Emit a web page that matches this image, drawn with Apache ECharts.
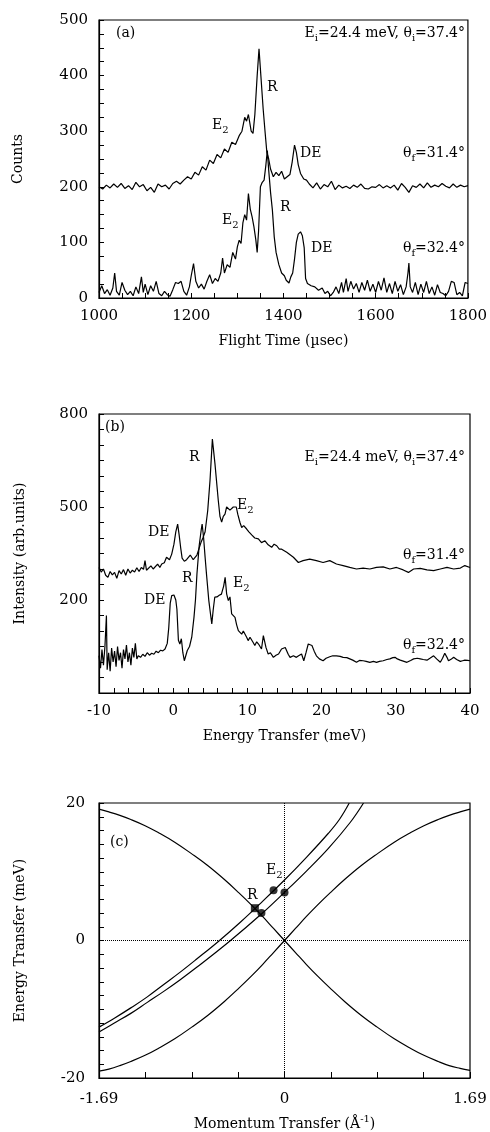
<!DOCTYPE html>
<html>
<head>
<meta charset="utf-8">
<script src="https://cdn.jsdelivr.net/npm/echarts@6/dist/echarts.min.js"></script>
<style>
  html, body { margin: 0; padding: 0; background: #fff; }
  #chart { width: 490px; height: 1132px; }
</style>
</head>
<body>
<div id="chart"></div>
<script>
// (a) time of flight spectra, [flight time (usec), counts]
var tofUpper = [
  [1000,200],[1008,196],[1016,203],[1024,198],[1032,205],[1040,199],[1048,206],[1056,197],[1064,202],[1072,195],
  [1080,208],[1088,200],[1096,204],[1104,193],[1112,199],[1120,190],[1128,205],[1136,200],[1144,203],[1152,196],
  [1160,206],[1168,210],[1176,205],[1184,212],[1192,218],[1200,214],[1208,226],[1216,221],[1224,236],[1232,230],
  [1240,248],[1248,242],[1256,258],[1264,252],[1272,268],[1280,262],[1288,280],[1296,276],[1304,292],[1310,300],
  [1316,325],[1320,318],[1324,330],[1330,300],[1334,296],[1338,330],[1343,400],[1347,448],[1351,400],[1356,340],
  [1360,300],[1364,262],[1368,250],[1372,232],[1378,218],[1384,226],[1390,220],[1396,228],[1402,214],[1408,218],
  [1414,222],[1419,245],[1424,275],[1428,262],[1432,240],[1437,224],[1444,214],[1450,212],[1456,205],[1464,198],
  [1472,207],[1480,196],[1488,204],[1496,200],[1504,210],[1512,195],[1520,203],[1528,198],[1536,201],[1544,197],
  [1552,203],[1560,199],[1568,205],[1576,197],[1584,196],[1592,200],[1600,199],[1608,204],[1616,198],[1624,202],
  [1632,198],[1640,203],[1648,194],[1656,206],[1664,199],[1672,190],[1680,202],[1688,199],[1696,205],[1704,198],
  [1712,207],[1720,199],[1728,203],[1736,200],[1744,206],[1752,201],[1760,198],[1768,205],[1776,199],[1784,203],
  [1792,200],[1800,202]
];
var tofLower = [
  [1000,10],[1006,22],[1012,8],[1018,15],[1024,5],[1030,18],[1034,45],[1038,12],[1044,5],[1050,28],
  [1056,14],[1062,6],[1068,12],[1074,4],[1080,20],[1086,8],[1092,38],[1096,10],[1100,25],[1106,6],
  [1112,22],[1118,12],[1124,30],[1130,8],[1136,4],[1142,12],[1148,6],[1154,3],[1160,15],[1166,28],
  [1172,26],[1178,30],[1184,12],[1190,5],[1196,20],[1200,40],[1205,62],[1210,30],[1216,18],[1222,25],
  [1228,16],[1234,30],[1240,42],[1246,26],[1252,35],[1258,30],[1264,45],[1268,72],[1272,45],[1278,60],
  [1284,55],[1290,82],[1296,70],[1300,92],[1304,104],[1308,98],[1312,135],[1316,150],[1320,140],[1324,188],
  [1328,160],[1332,146],[1336,128],[1340,105],[1343,82],[1346,120],[1350,200],[1354,208],[1358,212],[1362,240],
  [1365,265],[1368,230],[1372,190],[1376,158],[1380,110],[1384,82],[1390,60],[1396,45],[1402,40],[1406,32],
  [1412,27],[1416,38],[1420,45],[1424,70],[1428,100],[1432,115],[1437,119],[1441,112],[1445,90],[1448,35],
  [1452,26],[1460,22],[1468,20],[1476,14],[1484,18],[1490,8],[1496,12],[1502,4],[1508,10],[1514,20],
  [1520,8],[1526,28],[1530,10],[1536,35],[1540,12],[1546,30],[1552,16],[1558,26],[1564,10],[1570,28],
  [1576,14],[1582,32],[1588,12],[1594,25],[1600,10],[1606,30],[1612,14],[1618,36],[1624,10],[1630,26],
  [1636,8],[1642,30],[1648,12],[1654,24],[1660,6],[1666,20],[1670,45],[1672,63],[1675,20],[1680,10],
  [1686,28],[1692,6],[1698,25],[1704,10],[1710,30],[1716,8],[1722,20],[1728,5],[1734,24],[1740,10],
  [1746,8],[1752,4],[1758,12],[1764,30],[1770,28],[1776,6],[1782,10],[1788,4],[1794,28],[1800,26]
];

// (b) energy transfer spectra, [energy transfer (meV), intensity]
var energyUpper = [
  [-10,305],[-9.7,290],[-9.4,300],[-9.1,280],[-8.8,273],[-8.5,292],[-8.2,281],[-7.9,289],[-7.6,270],[-7.3,295],
  [-7.0,284],[-6.7,298],[-6.4,280],[-6.1,300],[-5.8,287],[-5.5,296],[-5.2,290],[-4.9,304],[-4.6,292],[-4.3,305],
  [-4.0,299],[-3.8,327],[-3.6,296],[-3.35,300],[-3.0,310],[-2.7,300],[-2.45,305],[-2.1,316],[-1.8,305],[-1.55,316],
  [-1.2,320],[-0.9,338],[-0.5,330],[-0.2,348],[0.1,380],[0.35,420],[0.6,445],[0.8,410],[1.0,370],[1.2,335],
  [1.5,325],[1.8,330],[2.0,332],[2.3,345],[2.5,348],[2.7,330],[2.95,332],[3.2,345],[3.4,360],[3.75,386],
  [4.0,400],[4.3,420],[4.65,488],[4.96,585],[5.28,719],[5.63,639],[6.08,520],[6.3,470],[6.53,451],[6.75,470],
  [6.98,477],[7.2,500],[7.43,504],[7.65,490],[7.88,494],[8.1,500],[8.33,494],[8.5,500],[8.7,477],[9.0,450],
  [9.23,434],[9.5,440],[9.9,429],[10.2,420],[10.58,410],[11.0,400],[11.48,397],[11.9,385],[12.37,391],[12.8,378],
  [13.27,370],[13.6,380],[13.95,375],[14.3,364],[14.62,364],[15.3,354],[16.2,338],[16.87,321],[17.5,327],[18.4,332],
  [19.3,327],[20.2,321],[21.1,327],[22.0,316],[22.9,311],[23.8,305],[24.7,300],[25.6,303],[26.5,300],[27.4,305],
  [28.3,307],[29.2,300],[30.1,305],[31.0,297],[31.7,289],[32.4,300],[33.3,302],[34.2,297],[35.1,295],[36.0,300],
  [36.9,305],[37.8,300],[38.7,303],[39.3,311],[40,305]
];
var energyLower = [
  [-10,20],[-9.8,-20],[-9.6,40],[-9.4,-10],[-9.2,50],[-9.0,150],[-8.9,-25],[-8.7,30],[-8.5,-30],[-8.3,45],
  [-8.1,0],[-7.9,35],[-7.7,-15],[-7.5,50],[-7.3,5],[-7.1,30],[-6.9,-20],[-6.7,40],[-6.5,10],[-6.3,55],
  [-6.1,0],[-5.9,30],[-5.7,-10],[-5.5,45],[-5.3,15],[-5.1,60],[-4.9,10],[-4.7,20],[-4.4,15],[-4.1,25],
  [-3.8,18],[-3.5,30],[-3.2,22],[-2.9,28],[-2.6,25],[-2.3,35],[-2.0,30],[-1.7,38],[-1.4,36],[-1.1,42],
  [-0.8,60],[-0.6,110],[-0.4,190],[-0.2,214],[0.1,216],[0.35,200],[0.5,170],[0.7,70],[0.9,58],[1.1,75],
  [1.3,30],[1.5,4],[1.7,10],[1.9,37],[2.2,50],[2.5,80],[2.8,144],[3.0,200],[3.2,284],[3.5,375],
  [3.8,430],[3.9,445],[4.1,400],[4.3,338],[4.5,280],[4.8,198],[5.0,160],[5.2,123],[5.4,170],[5.6,209],
  [5.9,210],[6.2,215],[6.5,219],[6.8,245],[7.0,273],[7.2,220],[7.43,198],[7.65,210],[7.88,155],[8.1,160],
  [8.33,144],[8.55,120],[8.78,101],[9.0,105],[9.23,90],[9.45,100],[9.68,96],[9.9,80],[10.1,69],[10.35,80],
  [10.6,74],[10.8,62],[11.0,53],[11.25,65],[11.5,58],[11.7,50],[11.9,42],[12.15,85],[12.5,47],[12.8,26],
  [13.1,30],[13.5,15],[13.85,22],[14.2,26],[14.6,42],[15.1,47],[15.5,25],[15.75,15],[16.2,20],[16.6,15],
  [16.9,20],[17.3,26],[17.6,4],[17.9,30],[18.2,58],[18.4,61],[18.7,53],[19.0,35],[19.3,20],[19.7,10],
  [20.2,4],[20.6,12],[21.1,17],[21.5,20],[22.0,20],[22.5,18],[22.9,15],[23.4,14],[23.8,10],[24.2,6],
  [24.7,-1],[25.1,5],[25.6,4],[26.0,2],[26.5,-1],[27.0,2],[27.4,-1],[27.8,2],[28.3,4],[28.8,8],
  [29.2,10],[29.6,14],[29.9,15],[30.2,10],[30.6,6],[31.0,3],[31.5,-1],[32.0,5],[32.4,10],[32.9,12],
  [33.3,10],[33.7,8],[34.2,6],[34.6,12],[35.1,20],[35.5,10],[36.0,-1],[36.3,12],[36.6,28],[36.9,15],
  [37.1,4],[37.5,10],[37.8,15],[38.2,8],[38.7,2],[39.0,4],[39.3,6],[39.7,5],[40,4]
];

// (c) dispersion and scan curves, [momentum transfer (1/A), energy transfer (meV)]
var dispersionRise = [
  [-1.69,-19.0],[-1.6,-18.7],[-1.5,-18.2],[-1.4,-17.6],[-1.27,-16.7],[-1.15,-15.7],[-1.0,-14.3],[-0.845,-12.6],
  [-0.7,-10.9],[-0.55,-8.9],[-0.42,-7.0],[-0.3,-5.15],[-0.2,-3.5],[-0.1,-1.75],[0,0],
  [0.1,1.75],[0.2,3.5],[0.3,5.15],[0.42,7.0],[0.55,8.9],[0.7,10.9],[0.845,12.6],[1.0,14.3],
  [1.15,15.7],[1.27,16.7],[1.4,17.6],[1.5,18.2],[1.6,18.7],[1.69,19.1]
];
var dispersionFall = [
  [-1.69,19.1],[-1.6,18.7],[-1.5,18.2],[-1.4,17.6],[-1.27,16.7],[-1.15,15.7],[-1.0,14.3],[-0.845,12.6],
  [-0.7,10.9],[-0.55,8.9],[-0.42,7.0],[-0.3,5.15],[-0.2,3.5],[-0.1,1.75],[0,0],
  [0.1,-1.75],[0.2,-3.5],[0.3,-5.15],[0.42,-7.0],[0.55,-8.9],[0.7,-10.9],[0.845,-12.6],[1.0,-14.3],
  [1.15,-15.7],[1.27,-16.7],[1.4,-17.6],[1.5,-18.2],[1.6,-18.6],[1.69,-18.9]
];
var scanUpper = [
  [-1.69,-12.6],[-1.55,-11.3],[-1.4,-9.8],[-1.25,-8.2],[-1.1,-6.4],[-0.95,-4.6],[-0.8,-2.7],[-0.6,-0.1],
  [-0.4,2.7],[-0.2,5.7],[0,8.8],[0.2,12.1],[0.4,15.6],[0.5,17.6],[0.59,20]
];
var scanLower = [
  [-1.69,-13.3],[-1.55,-12.0],[-1.4,-10.6],[-1.25,-9.0],[-1.1,-7.4],[-0.95,-5.7],[-0.8,-3.9],[-0.5,-0.1],
  [-0.2,4.0],[0,7.0],[0.2,10.1],[0.4,13.4],[0.6,17.2],[0.72,20]
];
var pointR = [[-0.27, 4.7]];
var pointsE2 = [[-0.21, 4.0], [-0.10, 7.3], [0.0, 7.0]];

var FONT = 'DejaVu Serif';
var chart = echarts.init(document.getElementById('chart'));

function axisStyle(extra) {
  var base = {
    type: 'value',
    axisLine: { show: true, onZero: false, lineStyle: { color: '#000', width: 1.2 } },
    axisTick: { show: true, inside: true, length: 5, lineStyle: { color: '#000' } },
    minorTick: { show: true, length: 5, lineStyle: { color: '#000' } },
    splitLine: { show: false },
    axisLabel: { color: '#000', fontFamily: FONT, fontSize: 15, margin: 11, formatter: function (v) { return String(v); } },
    nameLocation: 'middle',
    nameTextStyle: { color: '#000', fontFamily: FONT, fontSize: 14 }
  };
  return Object.assign(base, extra);
}

function minor(n) {
  return { show: true, splitNumber: n, length: 5, lineStyle: { color: '#000' } };
}

function line(data, xi, extra) {
  return Object.assign({
    type: 'line', data: data, xAxisIndex: xi, yAxisIndex: xi,
    showSymbol: false, symbol: 'none',
    lineStyle: { color: '#000', width: 1.2 }
  }, extra || {});
}

var rich = {
  n: { fontFamily: FONT, fontSize: 14, lineHeight: 20, verticalAlign: 'middle', fill: '#000', color: '#000' },
  s: { fontFamily: FONT, fontSize: 10, lineHeight: 12, verticalAlign: 'bottom', fill: '#000', color: '#000' }
};
function label(text, x, y, align) {
  return {
    type: 'text', x: x, y: y,
    style: { text: text, textAlign: align || 'left', verticalAlign: 'middle', rich: rich, fill: '#000' }
  };
}

var gridBox = { left: 99, right: 20, show: true, borderColor: '#000', borderWidth: 1.2, backgroundColor: 'transparent' };

chart.setOption({
  animation: false,
  backgroundColor: '#fff',
  grid: [
    Object.assign({ top: 20, height: 278 }, gridBox),
    Object.assign({ top: 414, height: 279 }, gridBox),
    Object.assign({ top: 803, height: 279 }, gridBox)
  ],
  xAxis: [
    axisStyle({ gridIndex: 0, min: 1000, max: 1800, interval: 200, minorTick: minor(4),
      name: 'Flight Time (\u00b5sec)', nameGap: 36 }),
    axisStyle({ gridIndex: 1, min: -10, max: 40, interval: 10, minorTick: minor(5),
      name: 'Energy Transfer (meV)', nameGap: 36 }),
    axisStyle({ gridIndex: 2, min: -1.69, max: 1.69, interval: 0.4225, minorTick: { show: false },
      axisTick: { show: true, inside: true, length: 6, lineStyle: { color: '#000' } },
      axisLabel: { color: '#000', fontFamily: FONT, fontSize: 15, margin: 14, showMinLabel: true, showMaxLabel: true,
        formatter: function (v) {
          if (Math.abs(v) < 1e-6) return '0';
          if (Math.abs(Math.abs(v) - 1.69) < 1e-6) return v.toFixed(2);
          return '';
        } },
      name: '{n|Momentum Transfer (\u00c5}{sup|-1}{n|)}', nameGap: 36,
      nameTextStyle: { rich: {
        n: { fontFamily: FONT, fontSize: 14, lineHeight: 20, color: '#000', verticalAlign: 'middle' },
        sup: { fontFamily: FONT, fontSize: 10, lineHeight: 10, color: '#000', verticalAlign: 'top' }
      } } })
  ],
  yAxis: [
    axisStyle({ gridIndex: 0, min: 0, max: 500, interval: 100, minorTick: minor(4),
      name: 'Counts', nameGap: 74 }),
    axisStyle({ gridIndex: 1, min: -100, max: 800, interval: 300, minorTick: minor(6),
      axisLabel: { color: '#000', fontFamily: FONT, fontSize: 15, margin: 11,
        formatter: function (v) { return v < 0 ? '' : String(v); } },
      name: 'Intensity (arb.units)', nameGap: 72 }),
    axisStyle({ gridIndex: 2, min: -20, max: 20, interval: 20, minorTick: minor(10),
      axisLabel: { color: '#000', fontFamily: FONT, fontSize: 15, margin: 14, formatter: function (v) { return String(v); } },
      name: 'Energy Transfer (meV)', nameGap: 72 })
  ],
  series: [
    line(tofUpper, 0),
    line(tofLower, 0),
    line(energyUpper, 1),
    line(energyLower, 1),
    line(dispersionRise, 2, { smooth: 0.4, markLine: {
      silent: true, symbol: 'none', label: { show: false },
      lineStyle: { type: 'dotted', color: '#000', width: 1 },
      data: [{ xAxis: 0 }, { yAxis: 0 }]
    } }),
    line(dispersionFall, 2, { smooth: 0.4 }),
    line(scanUpper, 2, { smooth: 0.4 }),
    line(scanLower, 2, { smooth: 0.4 }),
    { type: 'scatter', data: pointR, xAxisIndex: 2, yAxisIndex: 2, symbol: 'rect', symbolSize: 8, itemStyle: { color: '#000' } },
    { type: 'scatter', data: pointsE2, xAxisIndex: 2, yAxisIndex: 2, symbol: 'circle', symbolSize: 8, itemStyle: { color: '#000' } }
  ],
  graphic: [
    // (a)
    label('{n|(a)}', 116, 33),
    label('{n|E}{s|i}{n|=24.4 meV, \u03b8}{s|i}{n|=37.4\u00b0}', 465, 33, 'right'),
    label('{n|R}', 267, 87),
    label('{n|E}{s|2}', 212, 125),
    label('{n|DE}', 300, 153),
    label('{n|\u03b8}{s|f}{n|=31.4\u00b0}', 465, 153, 'right'),
    label('{n|E}{s|2}', 222, 220),
    label('{n|R}', 280, 207),
    label('{n|DE}', 311, 248),
    label('{n|\u03b8}{s|f}{n|=32.4\u00b0}', 465, 248, 'right'),
    // (b)
    label('{n|(b)}', 105, 427),
    label('{n|E}{s|i}{n|=24.4 meV, \u03b8}{s|i}{n|=37.4\u00b0}', 465, 457, 'right'),
    label('{n|R}', 189, 457),
    label('{n|E}{s|2}', 237, 505),
    label('{n|DE}', 148, 532),
    label('{n|\u03b8}{s|f}{n|=31.4\u00b0}', 465, 555, 'right'),
    label('{n|R}', 182, 578),
    label('{n|E}{s|2}', 233, 583),
    label('{n|DE}', 144, 600),
    label('{n|\u03b8}{s|f}{n|=32.4\u00b0}', 465, 645, 'right'),
    // (c)
    label('{n|(c)}', 110, 842),
    label('{n|R}', 247, 895),
    label('{n|E}{s|2}', 266, 870)
  ]
});
</script>
</body>
</html>
